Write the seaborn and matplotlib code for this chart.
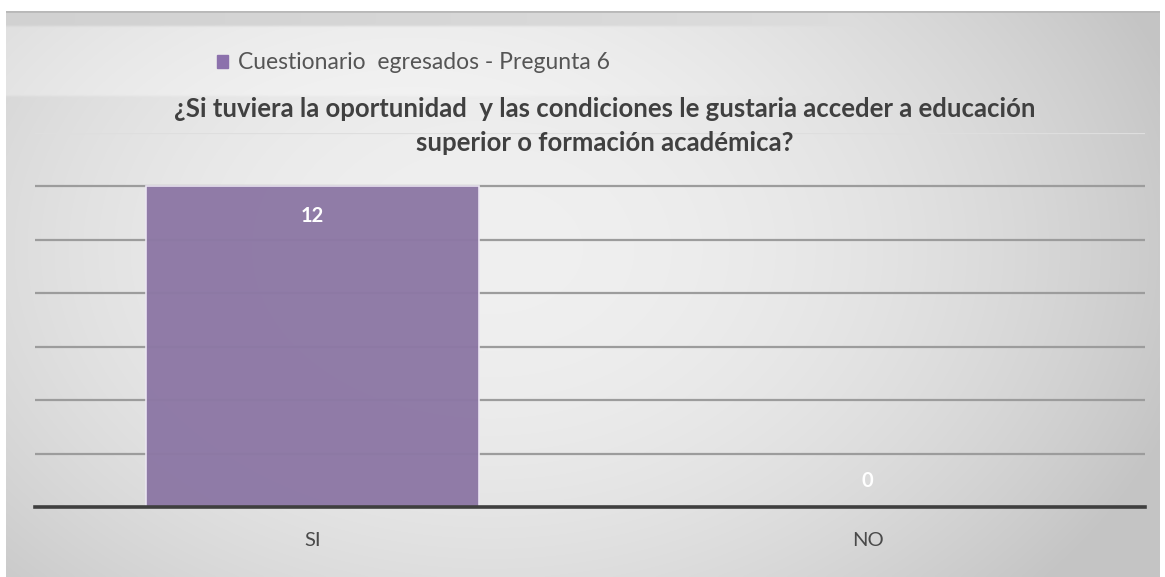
import numpy as np
import pandas as pd
import seaborn as sns
import matplotlib.pyplot as plt

categories = ['SI', 'NO']
values = [12, 0]
series_name = 'Cuestionario  egresados - Pregunta 6'
title = ('¿Si tuviera la oportunidad  y las condiciones le gustaria acceder a educación\n'
         'superior o formación académica?')

df = pd.DataFrame({'Respuesta': categories, 'Cantidad': values})

sns.set_theme(style='white')
plt.rcParams['font.family'] = ['Lato', 'DejaVu Sans']

W, H = 1165, 577
fig = plt.figure(figsize=(W / 100, H / 100), dpi=100)
fig.patch.set_facecolor('white')

# background gradient (chart area)
bg = fig.add_axes([6 / W, 0, 1154 / W, (H - 11) / H])
bg.set_axis_off()
yy, xx = np.mgrid[0:1:300j, 0:1:600j]
r2 = ((xx - 0.42) / 0.62) ** 2 + ((yy - 0.42) / 0.9) ** 2
g = 0.94 - 0.165 * r2
g = np.clip(g, 0.77, 0.95)
# top strip a bit darker, legend band lighter
top = yy < 0.025
g[top] = np.minimum(g[top], 0.82 + 0.06 * xx[top])
band = (yy >= 0.025) & (yy < 0.148)
g[band] = g[band] + 0.045 * np.clip(1 - xx[band] / 0.75, 0, 1)
g = np.clip(g, 0, 0.97)
img = np.dstack([g, g, g])
bg.imshow(img, aspect='auto', extent=[0, 1, 1, 0], interpolation='bicubic')
bg.set_xlim(0, 1)
bg.set_ylim(1, 0)
bg.axhline(0.0, color='#b8b8b8', lw=2)

ax = fig.add_axes([35 / W, (H - 507) / H, 1110 / W, 374 / H])
ax.patch.set_alpha(0)
sns.barplot(data=df, x='Respuesta', y='Cantidad', color='#8c71ac', width=0.6,
            edgecolor='#ece6f3', linewidth=1.2, alpha=0.97, zorder=3, ax=ax)
ax.set_ylim(0, 14)
ax.set_yticks(range(0, 15, 2))
ax.yaxis.grid(True, color='#9c9c9c', lw=1.6, zorder=0)
ax.get_ygridlines()[-1].set_color('#dedede')
ax.set_axisbelow(True)
ax.set_yticklabels([])
ax.tick_params(axis='y', length=0)
ax.tick_params(axis='x', length=0, labelsize=14.5, labelcolor='#4a4a4a', pad=18)
ax.set_xlabel('')
ax.set_ylabel('')
for s in ['top', 'right', 'left']:
    ax.spines[s].set_visible(False)
ax.spines['bottom'].set_color('#3f3f3f')
ax.spines['bottom'].set_linewidth(2.6)
ax.spines['bottom'].set_zorder(5)

for i, v in enumerate(values):
    off = -21 if v > 0 else 19
    ax.annotate(str(v), (i, v), xytext=(0, off), textcoords='offset points',
                ha='center', va='center', color='white', fontsize=14.5, fontweight='bold', zorder=6)

# legend
fig.legend(handles=[plt.Rectangle((0, 0), 1, 1, color='#8c71ac')], labels=[series_name],
           loc='center left', bbox_to_anchor=(196 / W, 1 - 63 / H), frameon=False,
           fontsize=16.5, handlelength=0.5, handleheight=0.5, handletextpad=0.45,
           labelcolor='#555555')

fig.text(605 / W, 1 - 126 / H, title, ha='center', va='center', fontsize=18.5,
         fontweight='bold', color='#404040', linespacing=1.48)

fig.savefig('out.png', dpi=100)
